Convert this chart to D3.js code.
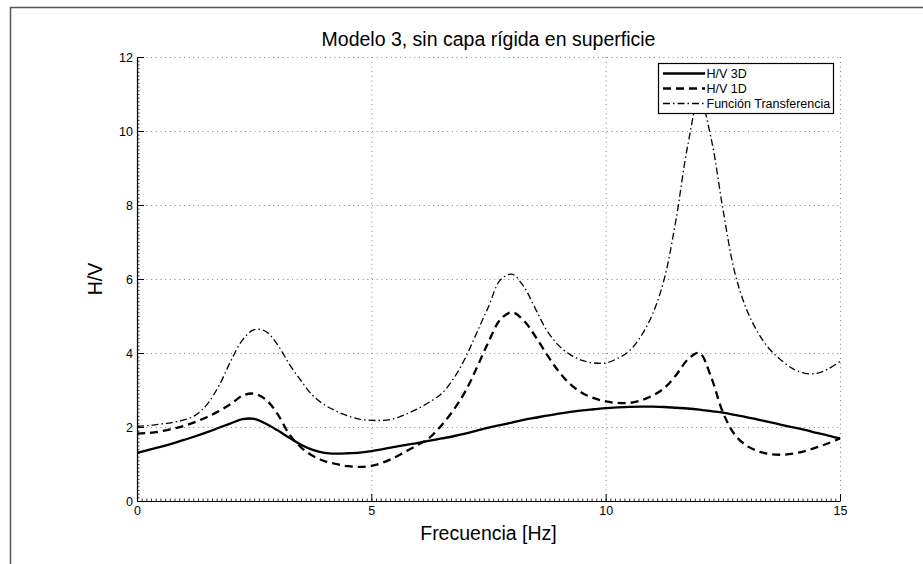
<!DOCTYPE html>
<html>
<head>
<meta charset="utf-8">
<script src="https://cdn.jsdelivr.net/npm/d3@7"></script>
<style>
  body { margin: 0; background: #fff; }
  svg { display: block; font-family: "Liberation Sans", Arial, Helvetica, sans-serif; }
</style>
</head>
<body>
<svg id="chart" width="923" height="564"></svg>
<script>
// frequency axis [Hz]
const freq = [0, 0.25, 0.5, 0.75, 1, 1.25, 1.5, 1.75, 2, 2.25, 2.5, 2.75, 3, 3.25, 3.5, 3.75,
  4, 4.25, 4.5, 4.75, 5, 5.25, 5.5, 5.75, 6, 6.25, 6.5, 6.75, 7, 7.25, 7.5, 7.75,
  8, 8.25, 8.5, 8.75, 9, 9.25, 9.5, 9.75, 10, 10.25, 10.5, 10.75, 11, 11.25, 11.5, 11.75,
  12, 12.25, 12.5, 12.75, 13, 13.25, 13.5, 13.75, 14, 14.25, 14.5, 14.75, 15];

const hv3d = [1.30, 1.38, 1.46, 1.55, 1.65, 1.75, 1.86, 1.98, 2.10, 2.21, 2.22, 2.09, 1.91, 1.71, 1.52, 1.38,
  1.30, 1.28, 1.29, 1.31, 1.35, 1.40, 1.46, 1.52, 1.57, 1.63, 1.69, 1.75, 1.82, 1.90, 1.98, 2.05,
  2.12, 2.19, 2.25, 2.31, 2.36, 2.41, 2.45, 2.48, 2.51, 2.53, 2.545, 2.55, 2.55, 2.54, 2.52, 2.50,
  2.47, 2.43, 2.39, 2.33, 2.27, 2.20, 2.13, 2.06, 1.99, 1.92, 1.84, 1.77, 1.69];

const hv1d = [1.82, 1.84, 1.88, 1.95, 2.03, 2.14, 2.27, 2.43, 2.62, 2.85, 2.90, 2.74, 2.35, 1.80, 1.45, 1.22,
  1.08, 1.00, 0.94, 0.92, 0.95, 1.04, 1.18, 1.35, 1.52, 1.72, 2.05, 2.45, 2.95, 3.60, 4.30, 4.90,
  5.10, 4.88, 4.45, 3.95, 3.50, 3.15, 2.92, 2.78, 2.69, 2.65, 2.65, 2.72, 2.85, 3.05, 3.40, 3.82,
  4.00, 3.35, 2.40, 1.80, 1.50, 1.35, 1.27, 1.25, 1.28, 1.35, 1.45, 1.56, 1.69];

const transf = [2.02, 2.04, 2.08, 2.12, 2.19, 2.32, 2.62, 3.12, 3.78, 4.35, 4.63, 4.58, 4.22, 3.70, 3.25, 2.85,
  2.60, 2.43, 2.30, 2.21, 2.18, 2.18, 2.23, 2.35, 2.50, 2.68, 2.90, 3.30, 3.85, 4.55, 5.25, 5.97,
  6.13, 5.80, 5.20, 4.60, 4.20, 3.95, 3.80, 3.73, 3.73, 3.85, 4.05, 4.45, 5.05, 6.00, 7.60, 9.60,
  10.90, 9.80, 7.90, 6.20, 5.20, 4.55, 4.10, 3.80, 3.57, 3.45, 3.45, 3.57, 3.77];

const seriesNames = ["H/V 3D", "H/V 1D", "Función Transferencia"];
const xTicks = [0, 5, 10, 15];
const yTicks = [0, 2, 4, 6, 8, 10, 12];

const svg = d3.select("svg#chart");

// figure frame (cropped window border)
svg.append("path")
  .attr("d", "M10.5,564 L10.5,7.5 L923,7.5")
  .attr("fill", "none")
  .attr("stroke", "#555")
  .attr("stroke-width", 1.5);

const margin = { left: 137, right: 83, top: 57, bottom: 63 };
const width = 923 - margin.left - margin.right;
const height = 564 - margin.top - margin.bottom;

const x = d3.scaleLinear().domain([0, 15]).range([0, width]);
const y = d3.scaleLinear().domain([0, 12]).range([height, 0]);

const g = svg.append("g").attr("transform", `translate(${margin.left},${margin.top})`);

// dotted grid
g.append("g").selectAll("line")
  .data(yTicks.filter(d => d > 0))
  .enter().append("line")
  .attr("x1", 0).attr("x2", width)
  .attr("y1", d => y(d) + 0.5).attr("y2", d => y(d) + 0.5)
  .attr("stroke", "#808080").attr("stroke-width", 1).attr("stroke-dasharray", "1,3.7");

g.append("g").selectAll("line")
  .data(xTicks.filter(d => d > 0))
  .enter().append("line")
  .attr("x1", d => x(d) + 0.5).attr("x2", d => x(d) + 0.5)
  .attr("y1", 0).attr("y2", height)
  .attr("stroke", "#808080").attr("stroke-width", 1).attr("stroke-dasharray", "1,3.7");

// minor ticks
g.append("g")
  .attr("transform", `translate(0,${height})`)
  .call(d3.axisBottom(x).tickValues(d3.range(0, 15.001, 0.1)).tickSize(-2.5).tickFormat(""))
  .call(a => a.select(".domain").remove())
  .selectAll("line").attr("stroke", "#333");

g.append("g")
  .call(d3.axisLeft(y).tickValues(d3.range(0, 12.001, 0.1)).tickSize(-2.5).tickFormat(""))
  .call(a => a.select(".domain").remove())
  .selectAll("line").attr("stroke", "#333");

// major axes
const xAxis = g.append("g")
  .attr("transform", `translate(0,${height})`)
  .call(d3.axisBottom(x).tickValues(xTicks).tickSize(-7).tickSizeOuter(0).tickPadding(5).tickFormat(d3.format("d")));

const yAxis = g.append("g")
  .call(d3.axisLeft(y).tickValues(yTicks).tickSize(-7).tickSizeOuter(0).tickPadding(4).tickFormat(d3.format("d")));

[xAxis, yAxis].forEach(a => {
  a.select(".domain").attr("stroke", "#000").attr("stroke-width", 1.2);
  a.selectAll(".tick line").attr("stroke", "#000");
  a.selectAll(".tick text")
    .attr("fill", "#000")
    .style("font-family", "'Liberation Sans', Arial, sans-serif")
    .style("font-size", "12.5px");
});

// curves
svg.append("clipPath").attr("id", "plot-clip")
  .append("rect").attr("x", 0).attr("y", -2).attr("width", width + 1).attr("height", height + 2);

const line = d3.line()
  .x(d => x(d[0]))
  .y(d => y(d[1]))
  .curve(d3.curveCatmullRom.alpha(0.5));

const styles = [
  { values: hv3d, width: 2.3, dash: null },
  { values: hv1d, width: 2.3, dash: "8,5" },
  { values: transf, width: 1.3, dash: "7,3,1.5,3" }
];

const curves = g.append("g").attr("clip-path", "url(#plot-clip)");
styles.forEach(s => {
  curves.append("path")
    .datum(freq.map((f, i) => [f, s.values[i]]))
    .attr("d", line)
    .attr("fill", "none")
    .attr("stroke", "#000")
    .attr("stroke-width", s.width)
    .attr("stroke-dasharray", s.dash)
    .attr("stroke-linejoin", "round");
});

// title and axis labels
svg.append("text")
  .attr("x", margin.left + width / 2).attr("y", 46)
  .attr("text-anchor", "middle")
  .style("font-size", "19.5px")
  .text("Modelo 3, sin capa rígida en superficie");

svg.append("text")
  .attr("x", margin.left + width / 2).attr("y", 540)
  .attr("text-anchor", "middle")
  .style("font-size", "19.5px")
  .text("Frecuencia [Hz]");

svg.append("text")
  .attr("transform", "translate(102,279) rotate(-90)")
  .attr("text-anchor", "middle")
  .style("font-size", "19.5px")
  .text("H/V");

// legend
const legend = svg.append("g").attr("transform", "translate(658,63)");
legend.append("rect")
  .attr("x", 0.5).attr("y", 0.5)
  .attr("width", 175).attr("height", 50)
  .attr("fill", "#fff").attr("stroke", "#000").attr("stroke-width", 1.2);

seriesNames.forEach((name, i) => {
  const ry = 10.5 + i * 15;
  legend.append("line")
    .attr("x1", 5).attr("x2", 47)
    .attr("y1", ry).attr("y2", ry)
    .attr("stroke", "#000")
    .attr("stroke-width", styles[i].width)
    .attr("stroke-dasharray", styles[i].dash);
  legend.append("text")
    .attr("x", 48.5).attr("y", ry + 4.5)
    .style("font-size", "12.5px")
    .text(name);
});
</script>
</body>
</html>
